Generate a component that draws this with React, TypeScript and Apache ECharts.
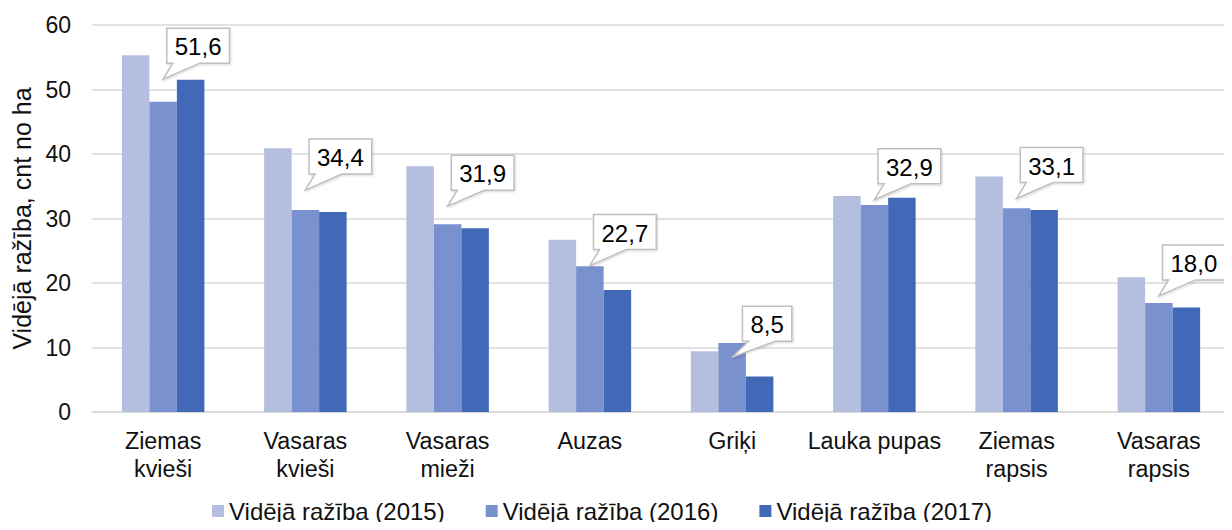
import React, { useEffect, useRef } from "react";
import * as echarts from "echarts";

const categories = [
  "Ziemas\nkvieši",
  "Vasaras\nkvieši",
  "Vasaras\nmieži",
  "Auzas",
  "Griķi",
  "Lauka pupas",
  "Ziemas\nrapsis",
  "Vasaras\nrapsis",
];
const seriesNames = ["Vidējā ražība (2015)", "Vidējā ražība (2016)", "Vidējā ražība (2017)"];
const values2015 = [55.3, 40.9, 38.1, 26.7, 9.4, 33.5, 36.5, 20.9];
const values2016 = [48.1, 31.3, 29.1, 22.6, 10.7, 32.1, 31.6, 16.9];
const values2017 = [51.5, 31.0, 28.5, 18.9, 5.5, 33.2, 31.3, 16.2];
const averages = [51.6, 34.4, 31.9, 22.7, 8.5, 32.9, 33.1, 18.0];
const yTicks = { min: 0, max: 60, interval: 10 };

const colors = ["#b4bfe0", "#7991cf", "#4169b8"];
const FONT = "'Liberation Sans', Arial, sans-serif";

function textWidth(s: string, fs: number) {
  let w = 0;
  for (const ch of s) w += ch === "," || ch === "." ? 0.278 : 0.556;
  return w * fs;
}

export default function App() {
  const ref = useRef<HTMLDivElement>(null);
  useEffect(() => {
    if (!ref.current) return;
    const chart = echarts.init(ref.current, null, { renderer: "svg" });
    const calloutFs = 24;
    chart.setOption({
      animation: false,
      textStyle: { fontFamily: FONT },
      grid: { left: 92, right: 2, top: 25, bottom: 118, containLabel: false },
      legend: {
        top: 497,
        left: 212,
        padding: 0,
        icon: "rect",
        itemWidth: 12,
        itemHeight: 12,
        itemGap: 41,
        textStyle: { fontSize: 24, color: "#111", fontFamily: FONT, lineHeight: 28 },
        data: seriesNames,
      },
      xAxis: {
        type: "category",
        data: categories,
        axisLine: { lineStyle: { color: "#d9d9d9", width: 1.5 } },
        axisTick: { show: false },
        axisLabel: { fontSize: 23.3, color: "#111", lineHeight: 28, margin: 15, interval: 0, fontFamily: FONT },
      },
      yAxis: {
        type: "value",
        min: yTicks.min,
        max: yTicks.max,
        interval: yTicks.interval,
        name: "Vidējā ražība, cnt no ha",
        nameLocation: "middle",
        nameGap: 58,
        nameTextStyle: { fontSize: 25, color: "#111", fontFamily: FONT },
        axisLine: { show: false },
        axisTick: { show: false },
        splitLine: { lineStyle: { color: "#d9d9d9", width: 1.5 } },
        axisLabel: { fontSize: 23, color: "#111", margin: 21, fontFamily: FONT },
      },
      series: [
        ...[values2015, values2016, values2017].map((vals, i) => ({
          type: "bar",
          name: seriesNames[i],
          data: vals,
          barGap: "0%",
          barCategoryGap: "42%",
          itemStyle: { color: colors[i] },
        })),
        {
          type: "custom",
          name: "avg",
          data: averages.map((v, i) => [i, v]),
          z: 10,
          renderItem: (params: any, api: any) => {
            const idx = api.value(0);
            const val = api.value(1);
            const p = api.coord([idx, val]);
            const label = val.toFixed(1).replace(".", ",");
            const tw = textWidth(label, calloutFs);
            const w = tw + 16;
            const h = 35;
            const cx = p[0] + 35;
            const L = cx - w / 2;
            const R = cx + w / 2;
            const B = p[1] - 16;
            const T = B - h;
            return {
              type: "group",
              children: [
                {
                  type: "polygon",
                  shape: {
                    points: [
                      [L, T],
                      [R, T],
                      [R, B],
                      [L + 33, B],
                      [p[0], p[1]],
                      [L + 6, B],
                      [L, B],
                    ],
                  },
                  style: {
                    fill: "#ffffff",
                    stroke: "#bfbfbf",
                    lineWidth: 1.5,
                    shadowColor: "rgba(0,0,0,0.15)",
                    shadowBlur: 2,
                    shadowOffsetX: 1,
                    shadowOffsetY: 1,
                  },
                },
                {
                  type: "text",
                  x: cx,
                  y: (T + B) / 2 + 1,
                  style: {
                    text: label,
                    fontSize: calloutFs,
                    fontFamily: FONT,
                    fill: "#000",
                    align: "center",
                    verticalAlign: "middle",
                  },
                },
              ],
            };
          },
        },
      ],
    });
    return () => chart.dispose();
  }, []);
  return <div ref={ref} style={{ width: 1232, height: 530, margin: -8 }} />;
}
